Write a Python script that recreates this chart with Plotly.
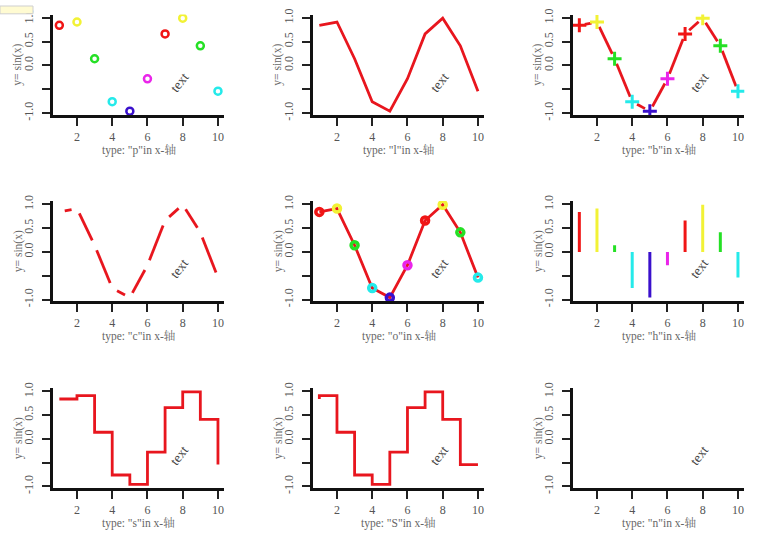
import plotly.graph_objects as go

# ---- data ----
x_vals = [1, 2, 3, 4, 5, 6, 7, 8, 9, 10]
y_vals = [0.84, 0.91, 0.14, -0.76, -0.96, -0.28, 0.66, 0.99, 0.41, -0.54]
point_colors = ["#f01515", "#f2f235", "#25e025", "#25eaea", "#3a10cc", "#ea25ea",
                "#f01515", "#f2f235", "#25e025", "#25eaea"]
plot_types = ["p", "l", "b", "c", "o", "h", "s", "S", "n"]
y_ticks = [-1.0, -0.5, 0.0, 0.5, 1.0]
y_tick_text = ["-1.0", "", "0.0", "0.5", "1.0"]
x_ticks = [2, 4, 6, 8, 10]
note_x, note_y, note_text = 7.8, -0.35, "text"

LINE_RED = "#e8161e"
W, H = 768, 554
XR = [0.64, 10.36]
YR = [-1.037, 1.067]
col_left = [53, 313, 573]
col_w = 171.3
row_tb = [(8.7, 111.3), (199.4, 301.8), (390.7, 492.8)]
SERIF = "Liberation Serif, Noto Serif CJK SC, Noto Sans CJK SC, serif"

fig = go.Figure()
annotations = []
shapes = []

def gapped(xs, ys, sx, sy, gap):
    gx, gy = [], []
    for i in range(len(xs) - 1):
        dx = (xs[i + 1] - xs[i]) * sx
        dy = (ys[i + 1] - ys[i]) * sy
        L = (dx * dx + dy * dy) ** 0.5
        if L <= 2 * gap:
            continue
        f = gap / L
        gx += [xs[i] + (xs[i + 1] - xs[i]) * f, xs[i + 1] - (xs[i + 1] - xs[i]) * f, None]
        gy += [ys[i] + (ys[i + 1] - ys[i]) * f, ys[i + 1] - (ys[i + 1] - ys[i]) * f, None]
    return gx, gy

for k, t in enumerate(plot_types):
    r, c = divmod(k, 3)
    n = "" if k == 0 else str(k + 1)
    xa, ya = "x" + n, "y" + n
    left = col_left[c]
    right = left + col_w
    top, bot = row_tb[r]
    xdom = [left / W, right / W]
    ydom = [(H - bot) / H, (H - top) / H]
    sx = col_w / (XR[1] - XR[0])
    sy = (bot - top) / (YR[1] - YR[0])

    axis_common = dict(showgrid=False, zeroline=False, showline=True, linewidth=2.5,
                       linecolor="#111111", ticks="outside", ticklen=8, tickwidth=1.5,
                       tickcolor="#222222", tickfont=dict(family=SERIF, size=12, color="#555555"))
    fig.layout["xaxis" + n] = dict(domain=xdom, range=XR, anchor=ya, tickvals=x_ticks,
                                    ticklabelstandoff=1, **axis_common)
    fig.layout["yaxis" + n] = dict(domain=ydom, range=YR, anchor=xa, tickvals=y_ticks,
                                    ticktext=y_tick_text, tickangle=-90,
                                    ticklabelstandoff=4, **axis_common)

    if t == "p":
        fig.add_trace(go.Scatter(x=x_vals, y=y_vals, mode="markers", xaxis=xa, yaxis=ya,
                                 marker=dict(symbol="circle-open", size=7, color=point_colors,
                                             line=dict(width=2.5, color=point_colors))))
    elif t == "l":
        fig.add_trace(go.Scatter(x=x_vals, y=y_vals, mode="lines", xaxis=xa, yaxis=ya,
                                 line=dict(color=LINE_RED, width=2.8)))
    elif t in ("b", "c"):
        gx, gy = gapped(x_vals, y_vals, sx, sy, 5.5)
        fig.add_trace(go.Scatter(x=gx, y=gy, mode="lines", xaxis=xa, yaxis=ya,
                                 line=dict(color=LINE_RED, width=2.8)))
        if t == "b":
            fig.add_trace(go.Scatter(x=x_vals, y=y_vals, mode="markers", xaxis=xa, yaxis=ya,
                                     marker=dict(symbol="cross-thin-open", size=10,
                                                 color=point_colors,
                                                 line=dict(width=3, color=point_colors))))
    elif t == "o":
        fig.add_trace(go.Scatter(x=x_vals, y=y_vals, mode="lines", xaxis=xa, yaxis=ya,
                                 line=dict(color=LINE_RED, width=2.8)))
        fig.add_trace(go.Scatter(x=x_vals, y=y_vals, mode="markers", xaxis=xa, yaxis=ya,
                                 marker=dict(symbol="circle-open", size=7, color=point_colors,
                                             line=dict(width=3.5, color=point_colors))))
    elif t == "h":
        for xv, yv, col in zip(x_vals, y_vals, point_colors):
            fig.add_trace(go.Scatter(x=[xv, xv], y=[0, yv], mode="lines", xaxis=xa, yaxis=ya,
                                     line=dict(color=col, width=3)))
    elif t == "s":
        fig.add_trace(go.Scatter(x=x_vals, y=y_vals, mode="lines", xaxis=xa, yaxis=ya,
                                 line=dict(color=LINE_RED, width=2.8, shape="hv")))
    elif t == "S":
        fig.add_trace(go.Scatter(x=x_vals, y=y_vals, mode="lines", xaxis=xa, yaxis=ya,
                                 line=dict(color=LINE_RED, width=2.8, shape="vh")))
    elif t == "n":
        fig.add_trace(go.Scatter(x=x_vals, y=y_vals, mode="markers", xaxis=xa, yaxis=ya,
                                 marker=dict(opacity=0), hoverinfo="skip"))

    # rotated "text" note
    annotations.append(dict(x=note_x, y=note_y, xref=xa, yref=ya, text=note_text,
                            showarrow=False, textangle=-52,
                            font=dict(family=SERIF, size=13.5, color="#444444")))
    # x title
    annotations.append(dict(x=(left + right) / 2 / W, y=(H - (bot + 36)) / H,
                            xref="paper", yref="paper", showarrow=False,
                            text='type: "%s"in x-轴' % t, xanchor="center", yanchor="middle",
                            font=dict(family=SERIF, size=11.5, color="#666666")))
    # y title
    annotations.append(dict(x=(left - 35) / W, y=(H - (top + bot) / 2) / H,
                            xref="paper", yref="paper", showarrow=False, textangle=-90,
                            text="y= sin(x)", xanchor="center", yanchor="middle",
                            font=dict(family=SERIF, size=11.5, color="#666666")))

shapes.append(dict(type="rect", xref="paper", yref="paper", x0=0, x1=33 / W,
                   y0=1 - 8 / H, y1=1, fillcolor="#fffbd2",
                   line=dict(color="#cfcfcf", width=1)))

fig.update_layout(width=W, height=H, margin=dict(l=0, r=0, t=0, b=0),
                  paper_bgcolor="white", plot_bgcolor="white", showlegend=False,
                  annotations=annotations, shapes=shapes)
fig.write_html("out.html", config={"displayModeBar": False},
               post_script="document.body.style.margin='0px';")
